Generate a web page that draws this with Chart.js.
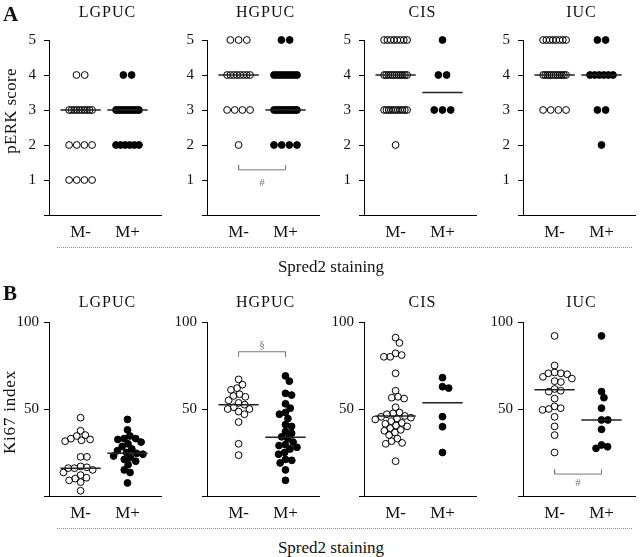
<!DOCTYPE html>
<html><head><meta charset="utf-8">
<script src="https://cdn.jsdelivr.net/npm/chart.js@4"></script>
<style>
html,body{margin:0;padding:0;background:#fff}
body{width:640px;height:557px;position:relative;overflow:hidden;font-family:"Liberation Serif","Times New Roman",serif;color:#111}
canvas{position:absolute}
.t{position:absolute;white-space:nowrap;transform:translate(-50%,-50%);line-height:1}
.lab{position:absolute;font-weight:bold;font-size:21px;line-height:1}
.ylab{position:absolute;white-space:nowrap;font-size:17px;line-height:1;transform:translate(-50%,-50%) rotate(-90deg)}
.dot{position:absolute;height:0;border-top:1px dotted #888}
</style></head><body>
<script>
// ---------- data ----------
const panels = ['LGPUC', 'HGPUC', 'CIS', 'IUC'];
const groups = ['M-', 'M+'];
const perkTickValues = [0, 1, 2, 3, 4, 5];
const perkTickLabels = ['', '1', '2', '3', '4', '5'];
const ki67TickValues = [0, 50, 100];
const ki67TickLabels = ['', '50', '100'];

// pERK score (panel A)
const perkLGPUC_neg = [4,4,3,3,3,3,3,3,3,3,3,3,2,2,2,2,1,1,1,1];
const perkLGPUC_pos = [4,4,3,3,3,3,3,3,3,3,3,3,3,2,2,2,2,2,2];
const perkHGPUC_neg = [5,5,5,4,4,4,4,4,4,4,4,3,3,3,3,2];
const perkHGPUC_pos = [5,5,4,4,4,4,4,4,4,4,4,3,3,3,3,3,3,3,3,3,3,3,3,2,2,2,2];
const perkCIS_neg = [5,5,5,5,5,5,5,5,4,4,4,4,4,4,4,4,4,4,4,4,3,3,3,3,3,3,3,3,3,3,3,2];
const perkCIS_pos = [5,4,4,3,3,3];
const perkIUC_neg = [5,5,5,5,5,5,5,5,4,4,4,4,4,4,4,4,4,4,4,4,3,3,3,3];
const perkIUC_pos = [5,5,4,4,4,4,4,4,3,3,2];
const perkMedians = [[3, 3], [4, 3], [4, 3.5], [4, 4]];

// Ki67 index (panel B)
const kiLGPUC_neg = [45,37.5,35,34.5,33,32.5,32,31.5,22.5,22.5,17,16.5,16,16,15,13.5,12,10.5,10,9,8,3];
const kiLGPUC_pos = [44,38,34.5,33,33,32.5,31,30,28.5,27,26,25,24.5,24,23,22,21,20,18,15,13.5,7.5];
const kiHGPUC_neg = [67,64,62,61,58.5,57.5,57,55,53.5,52.5,51,50,50,48.5,47,42.5,30,23.5];
const kiHGPUC_pos = [69,66,59,58,53,50.5,48,47,44.5,41,40,37,36,34,33,31,29.5,29,28,27,25,24,21,20.5,19,15,9];
const kiCIS_neg = [91,88,82,81,80,80,70.5,60.5,57,56.5,56,51,48,47.5,47,46,45.5,45,44.5,44,43,42,41.5,40.5,40,39,38,37.5,36.5,35,33,31.5,30.5,30,20];
const kiCIS_pos = [68,62.8,62,45.6,39.8,25];
const kiIUC_neg = [92,75,71,70.5,70.5,70,68.5,67.5,66,65.5,61.5,60.5,60,56,51.5,50.5,50,49.5,45.5,40,35,25];
const kiIUC_pos = [92,60,56.5,50.5,43.7,43.7,38.3,29.3,28.3,27.4];
const kiMedians = [[16, 24.5], [52.5, 33.7], [46, 53.6], [61, 43.7]];

const perkData = [[perkLGPUC_neg, perkLGPUC_pos],[perkHGPUC_neg, perkHGPUC_pos],[perkCIS_neg, perkCIS_pos],[perkIUC_neg, perkIUC_pos]];
const kiData = [[kiLGPUC_neg, kiLGPUC_pos],[kiHGPUC_neg, kiHGPUC_pos],[kiCIS_neg, kiCIS_pos],[kiIUC_neg, kiIUC_pos]];

// significance brackets: [row, panel, barY, tipY, symbol, symbolY]
const brackets = [
  ['A', 1, 1.29, 1.43, '#', 0.91],
  ['B', 1, 82.9, 80, '§', 86.8],
  ['B', 3, 12.6, 15.3, '#', 7.3]
];

// ---------- layout ----------
const FONT = '"Liberation Serif","Times New Roman",serif';
const axisXs = [49, 207, 364, 523];
const YW = 45, XLEN = 117, XH = 30;
const UNIT = 49;                       // px between M- and M+
const XMIN = -33 / UNIT, XMAX = XMIN + XLEN / UNIT;
const rows = {
  A: { top: 0, padTop: 40, plotH: 175, yMax: 5, tv: perkTickValues, tl: perkTickLabels, pad: 8 },
  B: { top: 280, padTop: 42, plotH: 174, yMax: 100, tv: ki67TickValues, tl: ki67TickLabels, pad: 5 }
};

function rowOffsets(values) {
  const counts = {}, seen = {};
  values.forEach(v => counts[v] = (counts[v] || 0) + 1);
  return values.map(v => {
    const n = counts[v];
    seen[v] = seen[v] === undefined ? 0 : seen[v] + 1;
    const span = Math.min(8.6 * (n - 1), 24);
    const step = n > 1 ? span / (n - 1) : 0;
    return (-span / 2 + seen[v] * step) / UNIT;
  });
}
function swarmOffsets(values, pxPerY) {
  const D = 6.6, placed = [], offs = new Array(values.length);
  const order = values.map((v, i) => i).sort((a, b) => values[b] - values[a]);
  for (const i of order) {
    const y = values[i] * pxPerY;
    const c = [0];
    for (const p of placed) {
      const dy = y - p.y;
      if (Math.abs(dy) < D) { const dx = Math.sqrt(D * D - dy * dy); c.push(p.x + dx, p.x - dx); }
    }
    c.sort((a, b) => Math.abs(a) - Math.abs(b));
    let best = 0;
    for (const x of c) {
      if (placed.every(p => (p.x - x) ** 2 + (p.y - y) ** 2 >= D * D - 1e-6)) { best = x; break; }
    }
    placed.push({ x: best, y });
    offs[i] = best / UNIT;
  }
  return offs;
}

const textPlugin = {
  id: 'sigText',
  afterDatasetsDraw(chart) {
    const marks = chart.options.plugins.sigText.marks || [];
    const ctx = chart.ctx;
    ctx.save();
    ctx.fillStyle = '#777';
    ctx.textAlign = 'center';
    ctx.textBaseline = 'middle';
    ctx.font = '11px ' + FONT;
    for (const m of marks) {
      ctx.fillText(m.text, chart.scales.x.getPixelForValue(m.x), chart.scales.y.getPixelForValue(m.y));
    }
    ctx.restore();
  }
};

function addDiv(cls, text, x, y, style) {
  const d = document.createElement('div');
  d.className = cls; d.textContent = text;
  d.style.left = x + 'px'; d.style.top = y + 'px';
  if (style) Object.assign(d.style, style);
  document.body.appendChild(d);
  return d;
}

function build(rowKey, p) {
  const R = rows[rowKey];
  const data = rowKey === 'A' ? perkData[p] : kiData[p];
  const med = rowKey === 'A' ? perkMedians[p] : kiMedians[p];
  const pxPerY = R.plotH / R.yMax;
  const cv = document.createElement('canvas');
  const H = R.padTop + R.plotH + XH;
  cv.width = YW + XLEN; cv.height = H;
  cv.style.left = (axisXs[p] - YW) + 'px';
  cv.style.top = R.top + 'px';
  cv.style.width = (YW + XLEN) + 'px'; cv.style.height = H + 'px';
  document.body.appendChild(cv);

  const datasets = [];
  med.forEach((m, g) => datasets.push({
    data: [{ x: g - 0.43, y: m }, { x: g + 0.43, y: m }],
    showLine: true, borderColor: '#222', borderWidth: 1.5, pointRadius: 0, order: 0, clip: false
  }));
  data.forEach((vals, g) => {
    const offs = rowKey === 'A' ? rowOffsets(vals) : swarmOffsets(vals, pxPerY);
    datasets.push({
      data: vals.map((v, i) => ({ x: g + offs[i], y: v })),
      pointRadius: 3.4, pointBorderWidth: 1, pointBorderColor: '#000',
      pointBackgroundColor: g === 0 ? 'rgba(255,255,255,0)' : '#000',
      showLine: false, order: 1, clip: false
    });
  });
  const marks = [];
  brackets.filter(b => b[0] === rowKey && b[1] === p).forEach(b => {
    datasets.push({
      data: [{ x: 0, y: b[3] }, { x: 0, y: b[2] }, { x: 1, y: b[2] }, { x: 1, y: b[3] }],
      showLine: true, borderColor: '#777', borderWidth: 1, pointRadius: 0, order: 2, clip: false
    });
    marks.push({ x: 0.5, y: b[5], text: b[4] });
  });

  new Chart(cv, {
    type: 'scatter',
    data: { datasets },
    options: {
      responsive: false, animation: false, devicePixelRatio: 1,
      layout: { padding: { top: R.padTop, left: 0, right: 0, bottom: 0 } },
      plugins: { legend: { display: false }, tooltip: { enabled: false }, sigText: { marks } },
      scales: {
        x: {
          type: 'linear', min: XMIN, max: XMAX, bounds: 'data',
          afterFit: s => { s.height = XH; },
          afterBuildTicks: s => { s.ticks = [{ value: 0 }, { value: 1 }]; },
          grid: { display: false, drawTicks: false },
          border: { display: true, color: '#000', width: 1 },
          ticks: { callback: (v, i) => groups[i], font: { family: FONT, size: 17 }, color: '#111', padding: 7, maxRotation: 0, autoSkip: false }
        },
        y: {
          type: 'linear', min: 0, max: R.yMax, bounds: 'data',
          afterFit: s => { s.width = YW; },
          afterBuildTicks: s => { s.ticks = R.tv.map(v => ({ value: v })); },
          grid: { display: true, drawOnChartArea: false, drawTicks: true, tickLength: 5, color: '#000' },
          border: { display: true, color: '#000', width: 1 },
          ticks: { callback: (v, i) => R.tl[i], font: { family: FONT, size: 15 }, color: '#111', padding: R.pad, autoSkip: false }
        }
      }
    },
    plugins: [textPlugin]
  });

  const titleY = rowKey === 'A' ? 12 : 302;
  addDiv('t', panels[p], axisXs[p] + XLEN / 2, titleY, { fontSize: '16px', letterSpacing: '1px' });
}

['A', 'B'].forEach(r => panels.forEach((_, p) => build(r, p)));

addDiv('lab', 'A', 3, 4);
addDiv('lab', 'B', 3, 283);
addDiv('ylab', 'pERK score', 10, 111, { letterSpacing: '0.3px' });
addDiv('ylab', 'Ki67 index', 9, 412, { letterSpacing: '0.8px' });
addDiv('t', 'Spred2 staining', 331, 266, { fontSize: '17px' });
addDiv('t', 'Spred2 staining', 331, 547, { fontSize: '17px' });
addDiv('dot', '', 57, 247, { width: '575px' });
addDiv('dot', '', 57, 528, { width: '575px' });
</script>
</body></html>
